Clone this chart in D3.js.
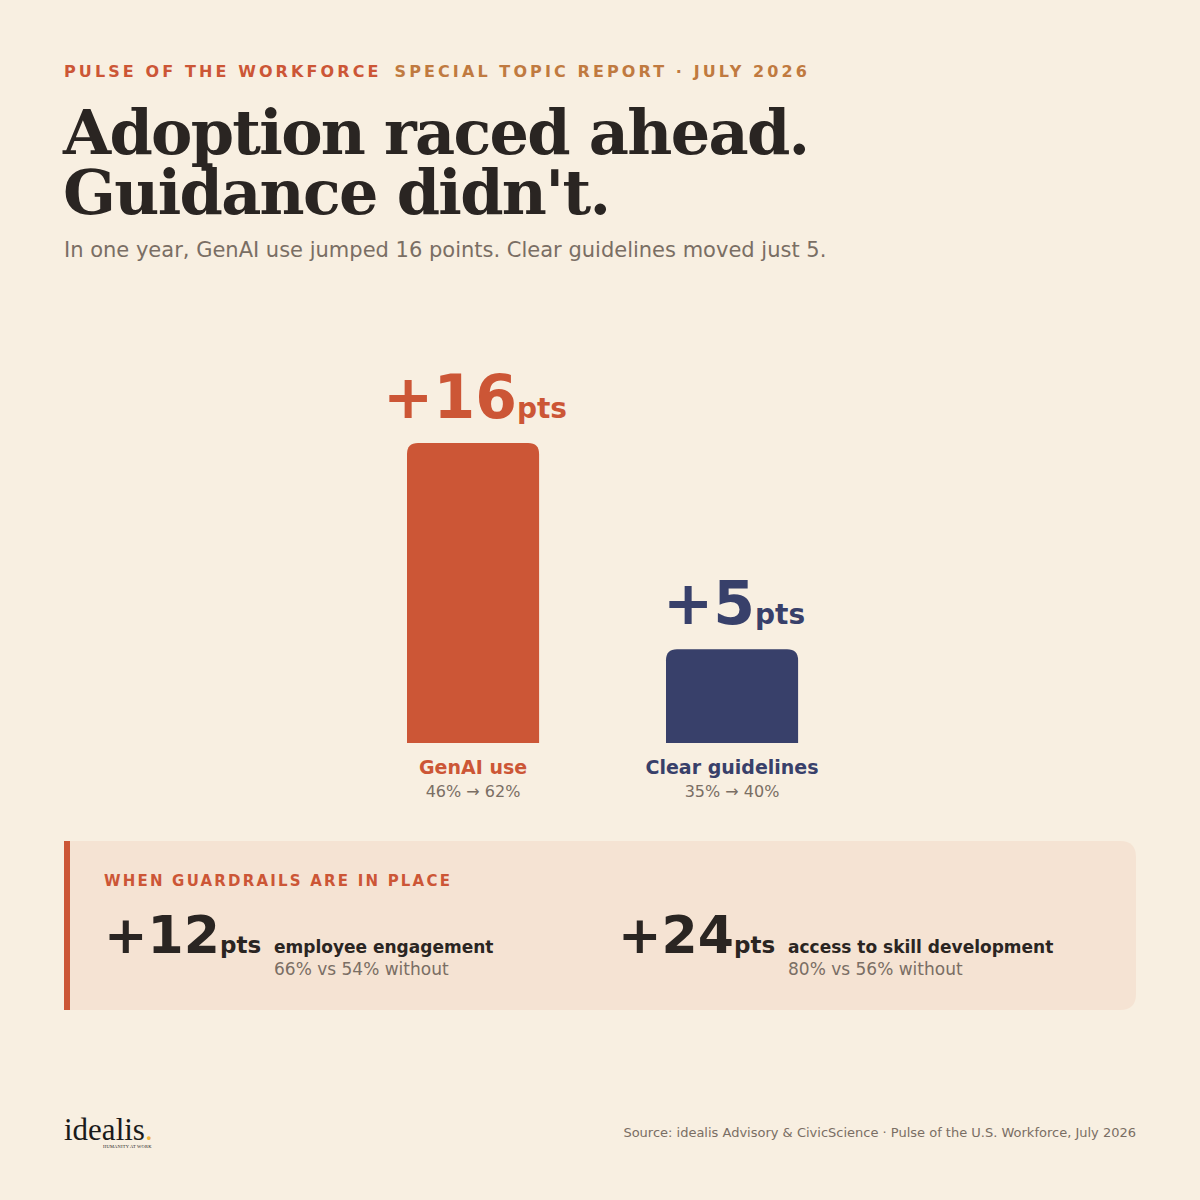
<!DOCTYPE html>
<html>
<head>
<meta charset="utf-8">
<script src="https://cdn.jsdelivr.net/npm/d3@7"></script>
<style>
  html, body { margin: 0; padding: 0; background: #f8efe1; }
  svg text { font-family: "DejaVu Sans", sans-serif; }
</style>
</head>
<body>
<div id="grafico"></div>
<script>
const WIDTH = 1200;
const HEIGHT = 1200;

// data
const categories = ["GenAI use", "Clear guidelines"];
const changes = [16, 5];
const fromTo = ["46% → 62%", "35% → 40%"];
const barColors = ["#cc5636", "#38406a"];

const guardMetrics = ["employee engagement", "access to skill development"];
const guardChanges = [12, 24];
const guardDetail = ["66% vs 54% without", "80% vs 56% without"];

const ORANGE = "#cc5636";
const DARK = "#2a2522";
const GREY = "#7a6e64";

let svg = d3.select("#grafico")
    .append("svg")
    .attr("width", WIDTH)
    .attr("height", HEIGHT);

svg.append("rect")
    .attr("width", WIDTH)
    .attr("height", HEIGHT)
    .attr("fill", "#f8efe1");

// header
let kicker = svg.append("text")
    .attr("x", 64)
    .attr("y", 77)
    .style("font-size", "16px")
    .style("font-weight", "bold")
    .style("letter-spacing", "3.1px");
kicker.append("tspan").attr("fill", ORANGE).text("PULSE OF THE WORKFORCE");
kicker.append("tspan").attr("fill", "#c07a40").attr("dx", 13).text("SPECIAL TOPIC REPORT · JULY 2026");

let titleLines = ["Adoption raced ahead.", "Guidance didn't."];
svg.selectAll(".title")
    .data(titleLines)
    .enter()
    .append("text")
    .attr("class", "title")
    .attr("x", 63)
    .attr("y", (d, i) => 154 + i * 60)
    .style("font-family", "'DejaVu Serif', serif")
    .style("font-size", "62px")
    .style("font-weight", "bold")
    .style("letter-spacing", "-1.7px")
    .attr("fill", DARK)
    .text(d => d);

svg.append("text")
    .attr("x", 64)
    .attr("y", 257)
    .style("font-size", "21px")
    .attr("fill", GREY)
    .text("In one year, GenAI use jumped 16 points. Clear guidelines moved just 5.");

// bars
let x = d3.scaleBand()
    .domain(categories)
    .range([277.5, 927.6])
    .paddingInner(0.49)
    .paddingOuter(0.5);

let y = d3.scaleLinear()
    .domain([0, 16])
    .range([743, 443]);

function topRounded(x0, y0, w, h, r) {
    return `M${x0},${y0 + h} V${y0 + r} Q${x0},${y0} ${x0 + r},${y0} H${x0 + w - r} Q${x0 + w},${y0} ${x0 + w},${y0 + r} V${y0 + h} Z`;
}

let bars = svg.append("g");
bars.selectAll("path")
    .data(categories)
    .enter()
    .append("path")
    .attr("d", (d, i) => topRounded(x(d), y(changes[i]), x.bandwidth(), y(0) - y(changes[i]), 11))
    .attr("fill", (d, i) => barColors[i]);

let valueLabels = bars.selectAll(".value")
    .data(categories)
    .enter()
    .append("text")
    .attr("class", "value")
    .attr("x", d => x(d) + x.bandwidth() / 2 + 2)
    .attr("y", (d, i) => y(changes[i]) - 25)
    .attr("text-anchor", "middle")
    .attr("fill", (d, i) => barColors[i])
    .style("font-weight", "bold");
valueLabels.append("tspan").style("font-size", "60px").text((d, i) => "+" + changes[i]);
valueLabels.append("tspan").style("font-size", "28px").text("pts");

bars.selectAll(".cat")
    .data(categories)
    .enter()
    .append("text")
    .attr("class", "cat")
    .attr("x", d => x(d) + x.bandwidth() / 2)
    .attr("y", 774)
    .attr("text-anchor", "middle")
    .attr("fill", (d, i) => barColors[i])
    .style("font-size", "19px")
    .style("font-weight", "bold")
    .text(d => d);

bars.selectAll(".fromto")
    .data(categories)
    .enter()
    .append("text")
    .attr("class", "fromto")
    .attr("x", d => x(d) + x.bandwidth() / 2)
    .attr("y", 797)
    .attr("text-anchor", "middle")
    .attr("fill", GREY)
    .style("font-size", "16px")
    .text((d, i) => fromTo[i]);

// guardrails box
let box = svg.append("g");
box.append("path")
    .attr("d", "M64,841 H1120 Q1136,841 1136,857 V994 Q1136,1010 1120,1010 H64 Z")
    .attr("fill", "#f5e3d3");
box.append("rect")
    .attr("x", 64)
    .attr("y", 841)
    .attr("width", 6)
    .attr("height", 169)
    .attr("fill", ORANGE);

box.append("text")
    .attr("x", 104)
    .attr("y", 886)
    .attr("fill", ORANGE)
    .style("font-size", "15px")
    .style("font-weight", "bold")
    .style("letter-spacing", "2.2px")
    .text("WHEN GUARDRAILS ARE IN PLACE");

let gx = d3.scalePoint()
    .domain(guardMetrics)
    .range([104, 618]);

let stats = box.selectAll(".stat")
    .data(guardMetrics)
    .enter()
    .append("g")
    .attr("class", "stat")
    .attr("transform", d => `translate(${gx(d)},0)`);

let big = stats.append("text")
    .attr("x", 0)
    .attr("y", 953)
    .attr("fill", DARK)
    .style("font-weight", "bold");
big.append("tspan").style("font-size", "52px").text((d, i) => "+" + guardChanges[i]);
big.append("tspan").style("font-size", "23px").text("pts");

stats.append("text")
    .attr("x", 170)
    .attr("y", 953)
    .attr("fill", DARK)
    .style("font-size", "17px")
    .style("font-weight", "bold")
    .text(d => d);

stats.append("text")
    .attr("x", 170)
    .attr("y", 975)
    .attr("fill", GREY)
    .style("font-size", "17px")
    .text((d, i) => guardDetail[i]);

// footer
let logo = svg.append("text")
    .attr("x", 64)
    .attr("y", 1140)
    .attr("fill", "#1a1a1a")
    .style("font-family", "'Liberation Serif', serif")
    .style("font-size", "31px");
logo.append("tspan").text("idealis");
logo.append("tspan").attr("fill", "#f0b43a").text(".");

svg.append("text")
    .attr("x", 103)
    .attr("y", 1148)
    .attr("fill", "#1a1a1a")
    .style("font-family", "'Liberation Serif', serif")
    .style("font-size", "4.5px")
    .style("letter-spacing", "0.2px")
    .text("HUMANITY AT WORK");

svg.append("text")
    .attr("x", 1136)
    .attr("y", 1137)
    .attr("text-anchor", "end")
    .attr("fill", GREY)
    .style("font-size", "13px")
    .text("Source: idealis Advisory & CivicScience · Pulse of the U.S. Workforce, July 2026");
</script>
</body>
</html>
